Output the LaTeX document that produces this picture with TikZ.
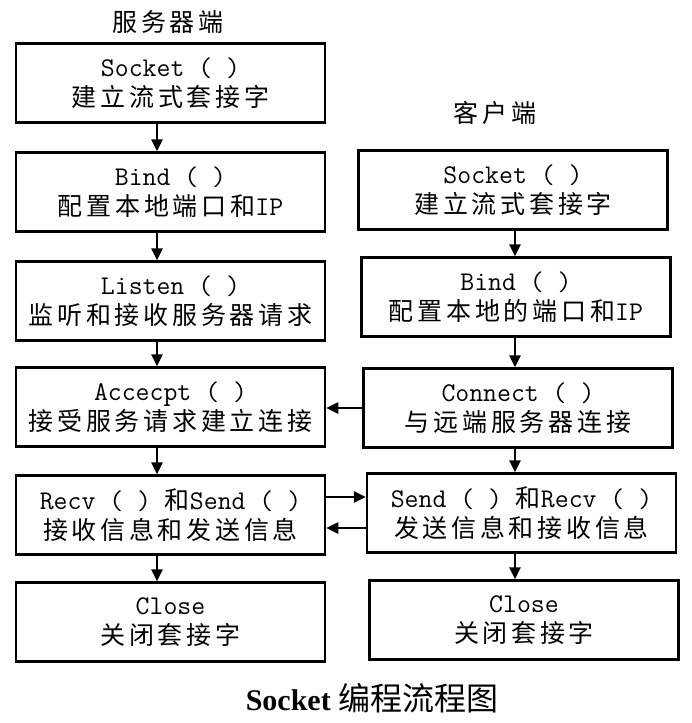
\documentclass[tikz,border=0pt]{standalone}
\usepackage{fontspec}
\newfontfamily\cjk[LetterSpace=15]{Noto Sans CJK SC}
\newfontfamily\cjkcap{Noto Sans CJK SC}
\newfontfamily\capfont{Liberation Serif}
\usetikzlibrary{arrows.meta}
\tikzset{
  stepbox/.style={draw, line width=2.5pt, minimum width=309pt, minimum height=79pt,
    align=center, inner sep=0pt, font=\ttfamily\fontsize{27}{30}\selectfont},
  arr/.style={line width=2.5pt, -{Triangle[length=12pt,width=11pt]}},
  side/.style={font=\cjk\fontsize{25}{28}\selectfont}
}
\begin{document}
\begin{tikzpicture}[x=1pt,y=-1pt]
    \useasboundingbox (0,0) rectangle (691,723);
    \coordinate (lx) at (157,0);
    \coordinate (rx) at (515,0);
    %
    \node[side] (stitle) at (168,22) {服务器端};
    \node[side] (ctitle) at (495,113) {客户端};
    %
    \node[stepbox] (s1) at (170.5,83)  {Socket ( )\\{\cjk\fontsize{25}{30}\selectfont 建立流式套接字}};
    \node[stepbox] (s2) at (170.5,192) {Bind ( )\\{\cjk\fontsize{25}{30}\selectfont 配置本地端口和}IP};
    \node[stepbox] (s3) at (170.5,301) {Listen ( )\\{\cjk\fontsize{25}{30}\selectfont 监听和接收服务器请求}};
    \node[stepbox] (s4) at (170.5,407) {Accecpt ( )\\{\cjk\fontsize{25}{30}\selectfont 接受服务请求建立连接}};
    \node[stepbox] (s5) at (170.5,515) {Recv ( ) {\cjk\fontsize{25}{30}\selectfont 和}Send ( )\\{\cjk\fontsize{25}{30}\selectfont 接收信息和发送信息}};
    \node[stepbox] (s6) at (170.5,622) {Close\\{\cjk\fontsize{25}{30}\selectfont 关闭套接字}};
    %
    \node[stepbox] (c1) at (513,190)   {Socket ( )\\{\cjk\fontsize{25}{30}\selectfont 建立流式套接字}};
    \node[stepbox] (c2) at (516,297)   {Bind ( )\\{\cjk\fontsize{25}{30}\selectfont 配置本地的端口和}IP};
    \node[stepbox] (c3) at (518,408)   {Connect ( )\\{\cjk\fontsize{25}{30}\selectfont 与远端服务器连接}};
    \node[stepbox] (c4) at (521.5,513) {Send ( ) {\cjk\fontsize{25}{30}\selectfont 和}Recv ( )\\{\cjk\fontsize{25}{30}\selectfont 发送信息和接收信息}};
    \node[stepbox] (c5) at (524,620)   {Close\\{\cjk\fontsize{25}{30}\selectfont 关闭套接字}};
    %
    \draw[arr] (s1.south -| lx) -- (s2.north -| lx);
    \draw[arr] (s2.south -| lx) -- (s3.north -| lx);
    \draw[arr] (s3.south -| lx) -- (s4.north -| lx);
    \draw[arr] (s4.south -| lx) -- (s5.north -| lx);
    \draw[arr] (s5.south -| lx) -- (s6.north -| lx);
    %
    \draw[arr] (c1.south -| rx) -- (c2.north -| rx);
    \draw[arr] (c2.south -| rx) -- (c3.north -| rx);
    \draw[arr] (c3.south -| rx) -- (c4.north -| rx);
    \draw[arr] (c4.south -| rx) -- (c5.north -| rx);
    %
    \draw[arr] (c3.west) -- (c3.west -| s4.east);
    \draw[arr] ([yshift=18pt]s5.east) -- ([yshift=18pt]s5.east -| c4.west);
    \draw[arr] ([yshift=-15pt]c4.west) -- ([yshift=-15pt]c4.west -| s5.east);
    %
    \node (cap) at (372,698) {\fontsize{30}{32}\selectfont\capfont\bfseries Socket {\mdseries\cjkcap\fontsize{32}{32}\selectfont 编程流程图}};
\end{tikzpicture}
\end{document}
